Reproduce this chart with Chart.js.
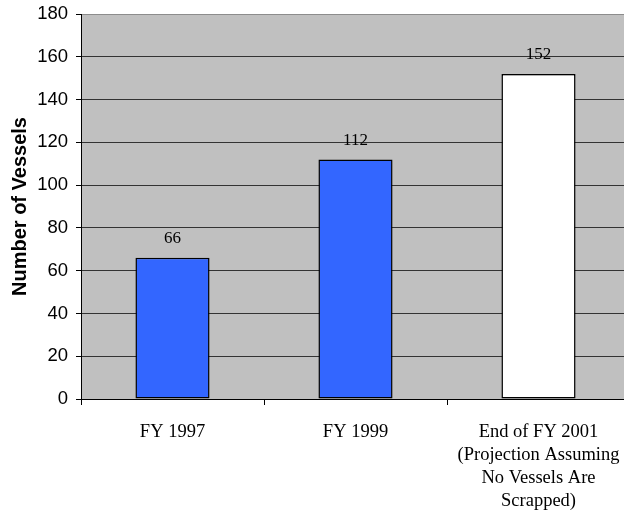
<!DOCTYPE html>
<html>
<head>
<meta charset="utf-8">
<script src="https://cdn.jsdelivr.net/npm/chart.js@4"></script>
<style>
    html, body { margin: 0; padding: 0; background: #fff; overflow: hidden; }
    #wrap { width: 632px; height: 520px; }
</style>
</head>
<body>
<div id="wrap"><canvas id="vesselsChart" width="632" height="520"></canvas></div>
<script>
const categories = [
    ['FY 1997'],
    ['FY 1999'],
    ['End of FY 2001', '(Projection Assuming', 'No Vessels Are', 'Scrapped)']
];
const vessels = [66, 112, 152];
const barColors = ['#3366ff', '#3366ff', '#ffffff'];
const yTicks = [0, 20, 40, 60, 80, 100, 120, 140, 160, 180];

// gray plot background
const plotBackground = {
    id: 'plotBackground',
    beforeDraw(chart) {
        const { ctx, chartArea } = chart;
        ctx.save();
        ctx.fillStyle = '#c0c0c0';
        ctx.fillRect(chartArea.left, chartArea.top, chartArea.right - chartArea.left, chartArea.bottom - chartArea.top);
        ctx.restore();
    }
};

// value above each bar
const valueLabels = {
    id: 'valueLabels',
    afterDatasetsDraw(chart) {
        const { ctx } = chart;
        const meta = chart.getDatasetMeta(0);
        ctx.save();
        ctx.font = '17px "Liberation Serif", "Times New Roman", serif';
        ctx.fillStyle = '#000';
        ctx.textAlign = 'center';
        ctx.textBaseline = 'middle';
        meta.data.forEach((bar, i) => {
            ctx.fillText(vessels[i], bar.x, bar.y - 19);
        });
        ctx.restore();
    }
};

new Chart(document.getElementById('vesselsChart'), {
    type: 'bar',
    data: {
        labels: categories,
        datasets: [{
            data: vessels,
            backgroundColor: barColors,
            borderColor: '#000',
            borderWidth: 1.5,
            borderSkipped: false,
            inflateAmount: 0,
            categoryPercentage: 1,
            barPercentage: 0.405
        }]
    },
    options: {
        responsive: false,
        animation: false,
        devicePixelRatio: 1,
        layout: { padding: { left: 0, top: 14, right: 2, bottom: 0 } },
        plugins: {
            legend: { display: false },
            tooltip: { enabled: false }
        },
        scales: {
            x: {
                grid: {
                    offset: true,
                    drawOnChartArea: false,
                    drawTicks: true,
                    tickLength: 6,
                    color: '#000'
                },
                border: { color: '#000', width: 1 },
                ticks: {
                    color: '#000',
                    padding: 16,
                    maxRotation: 0,
                    autoSkip: false,
                    font: { family: '"Liberation Serif", "Times New Roman", serif', size: 18.5, lineHeight: 1.243 }
                },
                afterFit(scale) {
                    scale.height = 121;
                    scale.paddingLeft = 0;
                    scale.paddingRight = 0;
                }
            },
            y: {
                min: 0,
                max: 180,
                afterBuildTicks(scale) { scale.ticks = yTicks.map(v => ({ value: v })); },
                grid: {
                    color: ctx => ctx.tick && ctx.tick.value === 180 ? '#8c8c8c' : '#333',
                    tickColor: '#000',
                    tickLength: 5,
                    lineWidth: 1
                },
                border: { color: '#000', width: 1 },
                ticks: {
                    color: '#000',
                    padding: 8,
                    font: { family: '"Liberation Sans", Arial, sans-serif', size: 18.5 }
                },
                title: {
                    display: true,
                    text: 'Number of Vessels',
                    color: '#000',
                    padding: { top: 8, bottom: 0 },
                    font: { family: '"Liberation Sans", Arial, sans-serif', size: 20, weight: 'bold' }
                },
                afterFit(scale) {
                    scale.width = 81;
                    scale.paddingTop = 0;
                    scale.paddingBottom = 0;
                }
            }
        }
    },
    plugins: [plotBackground, valueLabels]
});
</script>
</body>
</html>
